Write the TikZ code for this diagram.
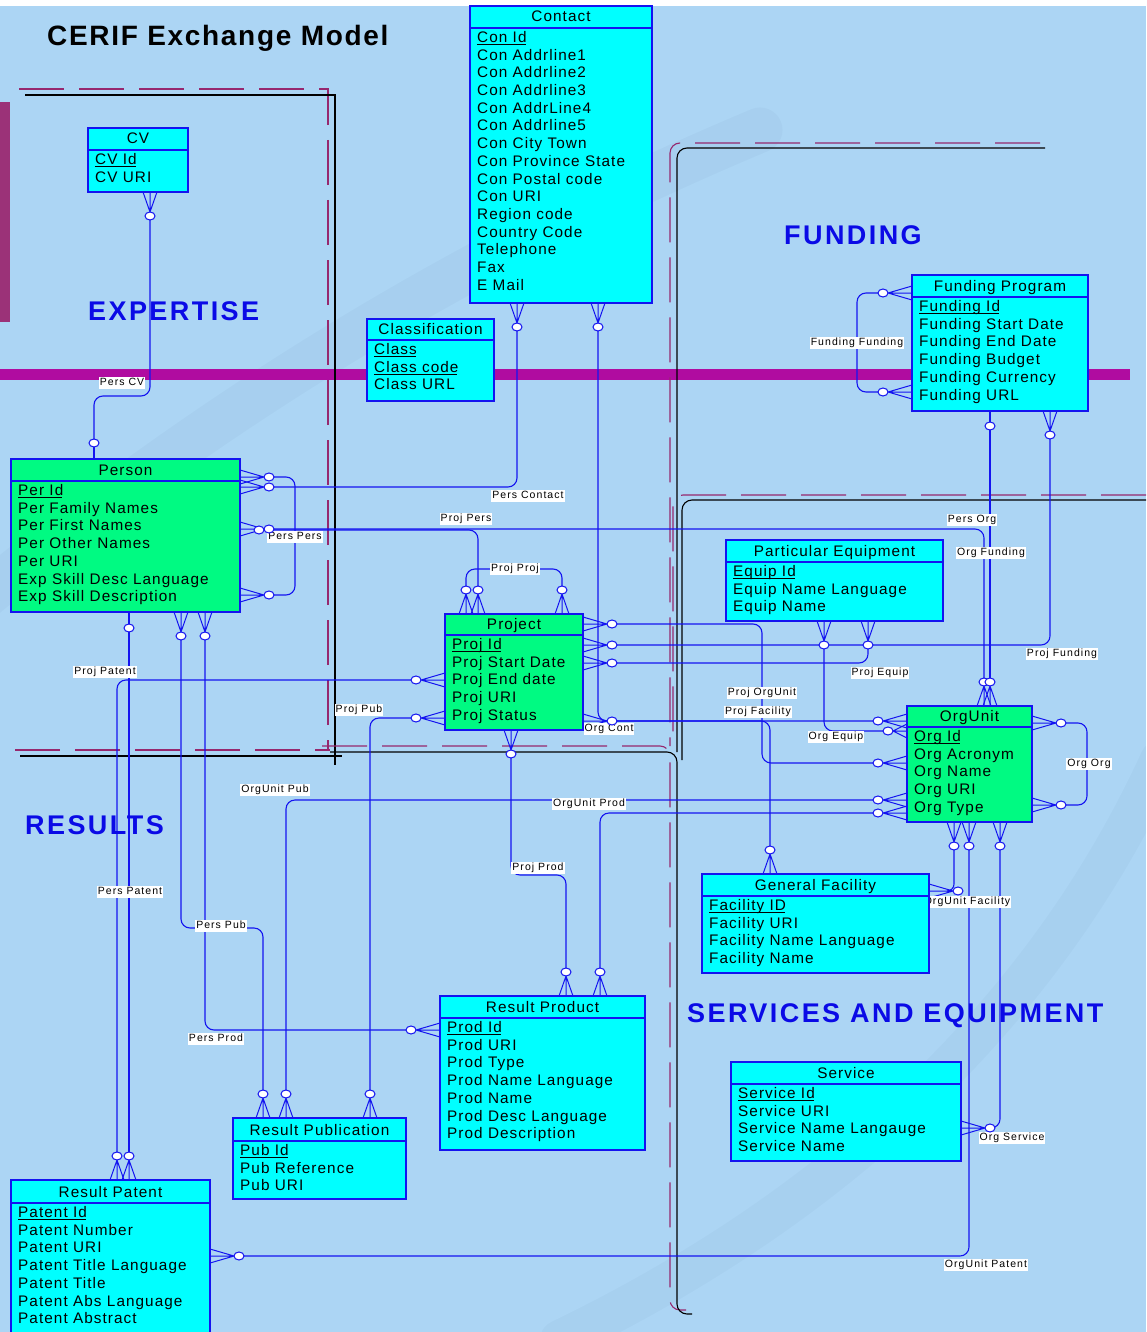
\documentclass[tikz,border=0pt]{standalone}
\usepackage{fontspec}
\setmainfont{Liberation Sans}
\newfontfamily\entfont[LetterSpace=7]{Liberation Sans}
\newfontfamily\lblfont[LetterSpace=10]{Liberation Sans}
\newfontfamily\hdfont[LetterSpace=9]{Liberation Sans}
\newfontfamily\ttlfont[LetterSpace=6]{Liberation Sans}
\usetikzlibrary{calc}
\definecolor{bgblue}{RGB}{172,213,244}
\definecolor{bandcol}{RGB}{176,12,160}
\definecolor{barcol}{RGB}{155,50,120}
\definecolor{dshcol}{RGB}{150,40,110}
\definecolor{relblue}{RGB}{20,20,240}
\definecolor{cyfill}{RGB}{0,255,255}
\definecolor{grfill}{RGB}{0,250,130}
\definecolor{ttlblue}{RGB}{10,10,230}
\definecolor{shadecol}{RGB}{60,90,140}
\newcommand\key[1]{\setbox0\hbox{#1}\rlap{\rule[-2.3pt]{\dimexpr\wd0-1pt\relax}{1pt}}#1}
% entity: name, x1, y1, x2, y2, header line y, fill, title, attributes
\newcommand\entity[9]{%
  \node[entbox,fill=#7,anchor=north west,minimum width={#4-#2},minimum height={#5-#3}] (#1) at (#2,#3) {};
  \draw[draw=relblue,line width=1.2pt] (#2,#6) -- (#4,#6);
  \node[enttxt,anchor=base] (#1-title) at ({(#2+#4)/2},#6-6) {#8};
  \foreach \a [count=\i from 0] in {#9}{%
    \node[enttxt,anchor=base west] (#1-a\i) at (#2+7,{#6+14.5+17.7*\i}) {\a};}%
}
\newcommand\crowR[4][24]{\draw[crowft] (#3,#4-7)--(#3+#1,#4)--(#3,#4+7) (#3,#4)--(#3+#1,#4); \coordinate (#2) at (#3+#1+5,#4);}
\newcommand\crowL[4][24]{\draw[crowft] (#3,#4-7)--(#3-#1,#4)--(#3,#4+7) (#3,#4)--(#3-#1,#4); \coordinate (#2) at (#3-#1-5,#4);}
\newcommand\crowD[4][20]{\draw[crowft] (#3-7,#4)--(#3,#4+#1)--(#3+7,#4) (#3,#4)--(#3,#4+#1); \coordinate (#2) at (#3,#4+#1+4);}
\newcommand\crowU[4][20]{\draw[crowft] (#3-7,#4)--(#3,#4-#1)--(#3+7,#4) (#3,#4)--(#3,#4-#1); \coordinate (#2) at (#3,#4-#1-4);}
\begin{document}
\begin{tikzpicture}[x=1pt,y=-1pt,
  relline/.style={draw=relblue,line width=1.1pt,rounded corners=9pt},
  crowft/.style={draw=relblue,line width=1pt},
  endcirc/.style={draw=relblue,line width=1pt,fill=white},
  entbox/.style={draw=relblue,line width=1.4pt,inner sep=0pt,outer sep=0pt,rectangle},
  enttxt/.style={inner sep=0pt,text=black,font=\entfont\fontsize{15.3}{17.7}\selectfont},
  rlabel/.style={fill=white,inner xsep=1pt,inner ysep=0.6pt,text=black,font=\lblfont\fontsize{10.5}{12}\selectfont,text height=7.8pt,text depth=2.2pt},
  dashreg/.style={draw=dshcol,line width=1.1pt,dash pattern=on 45pt off 15pt},
  solidreg/.style={draw=black,line width=1.1pt},
  secttl/.style={anchor=base west,inner sep=0pt,text=ttlblue,font=\hdfont\bfseries\fontsize{27}{30}\selectfont}]
\useasboundingbox (0,0) rectangle (1146,1332);
% background
\fill[white] (0,0) rectangle (1146,1332);
\fill[bgblue] (0,6) rectangle (1146,1332);
\begin{scope}
\clip (0,6) rectangle (1146,1332);
\draw[shadecol,opacity=0.045,line width=45pt,line cap=round] (-20,600) .. controls (200,420) and (450,260) .. (760,130);
\draw[shadecol,opacity=0.04,line width=40pt,line cap=round] (560,1340) .. controls (850,1200) and (1050,1000) .. (1160,760);
\end{scope}
\fill[bandcol] (0,369) rectangle (1130,380);
\fill[barcol] (0,102) rectangle (10,322);
% region borders
\draw[dashreg] (19,89) -- (328,89) -- (328,750);
\draw[dashreg] (15,750) -- (330,750);
\draw[solidreg] (25,95) -- (335,95) -- (335,765);
\draw[solidreg] (20,756) -- (342,756);
\draw[dashreg,rounded corners=10pt] (322,746) -- (670,746) -- (670,1310) -- (686,1310);
\draw[solidreg,rounded corners=10pt] (330,752) -- (677,752) -- (677,1314) -- (692,1314);
\draw[dashreg,rounded corners=10pt] (1040,143) -- (670,143) -- (670,746);
\draw[solidreg,rounded corners=10pt] (1045,148) -- (677,148) -- (677,752);
\draw[dashreg,rounded corners=10pt] (1146,495) -- (673,495) -- (673,746);
\draw[solidreg,rounded corners=10pt] (1146,500) -- (682,500) -- (682,760);
% title
\node[anchor=base west,inner sep=0pt,text=black,font=\ttlfont\bfseries\fontsize{28}{32}\selectfont] (title) at (47,46) {CERIF Exchange Model};
% crow's feet and end points
\crowD{cB1}{517}{303} \crowD{cB2}{598}{303}
\crowD{cvB}{150}{192}
\coordinate (pT) at (94,443);
\crowR{pR1}{240}{477} \crowR{pR2}{240}{487} \crowR{pR3}{240}{529} \coordinate (pR3b) at (259,530);
\crowR{pR4}{240}{595}
\coordinate (pB0) at (129,628);
\crowD{pB1}{181}{612} \crowD{pB2}{205}{612}
\crowU{jT1}{466}{614} \crowU{jT2}{478}{614} \crowU{jT3}{562}{614}
\crowR{jR1}{583}{624} \crowR{jR2}{583}{645} \crowR{jR3}{583}{663} \crowR{jR4}{583}{721}
\crowL{jL1}{445}{680} \crowL{jL2}{445}{718}
\crowD{jB}{511}{730}
\crowL{fL1}{912}{293} \crowL{fL2}{912}{392}
\coordinate (fB1) at (990,426);
\crowD{fB2}{1050}{411}
\crowD{eB1}{824}{621} \crowD{eB2}{868}{621}
\crowU{oT1}{984}{706} \crowU{oT2}{990}{706}
\crowL{oL1}{907}{721} \crowL[14]{oL2}{907}{731} \crowL{oL3}{907}{763} \crowL{oL4}{907}{800} \crowL{oL5}{907}{813}
\crowR{oR1}{1032}{723} \crowR{oR2}{1032}{805}
\crowD{oB1}{954}{822} \crowD{oB2}{969}{822} \crowD{oB3}{1000}{822}
\crowU{gT}{770}{874} \crowR{gR}{929}{891}
\crowR{sR}{961}{1128}
\crowU{prT1}{566}{996} \crowU{prT2}{600}{996} \crowL{prL}{440}{1030}
\crowU{puT1}{263}{1118} \crowU{puT2}{286}{1118} \crowU{puT3}{370}{1118}
\crowU{paT1}{117}{1180} \crowU{paT2}{129}{1180} \crowR{paR}{210}{1256}
% connectors
\draw[relline] (cvB) -- ++(0,180) -| (pT);
\draw[relline] (pT) -- (94,459);
\draw[relline] (pR1) -- ++(26,0) |- (pR4);
\draw[relline] (pR2) -| (cB1);
\draw[relline] (pR3b) -| (jT2);
\draw[relline] (pR3) -| (oT1);
\draw[relline] (jT1) -- ++(0,-21) -| (jT3);
\draw[relline] (jR1) -- ++(150,0) |- (oL3);
\draw[relline] (jR2) -| (fB2);
\draw[relline] (jR3) -| (eB2);
\draw[relline] (eB1) |- (oL2);
\draw[relline] (cB2) |- (oL1);
\draw[relline] (jR4) -| (gT);
\draw[relline] (jL1) -| (paT1);
\draw[relline] (pB0) -- (paT2);
\draw[relline] (pB0) -- (129,612);
\draw[relline] (jL2) -| (puT3);
\draw[relline] (jB) -- ++(0,121) -| (prT1);
\draw[relline] (pB1) -- ++(0,292) -| (puT1);
\draw[relline] (pB2) |- (prL);
\draw[relline] (puT2) |- (oL4);
\draw[relline] (prT2) |- (oL5);
\draw[relline] (oR1) -- ++(26,0) |- (oR2);
\draw[relline] (fB1) -- (oT2);
\draw[relline] (fB1) -- (990,411);
\draw[relline] (fL1) -- ++(-26,0) |- (fL2);
\draw[relline,rounded corners=7pt] (oB1) |- ($(gR)+(-8,0)$);
\draw[relline] (oB2) |- (paR);
\draw[relline] (oB3) |- (sR);
% relationship labels
\node[rlabel] (l1) at (122,383) {Pers CV};
\node[rlabel] (l2) at (528,496) {Pers Contact};
\node[rlabel] (l3) at (466,519) {Proj Pers};
\node[rlabel] (l4) at (295,537) {Pers Pers};
\node[rlabel] (l5) at (515,569) {Proj Proj};
\node[rlabel] (l6) at (105,672) {Proj Patent};
\node[rlabel] (l7) at (359,710) {Proj Pub};
\node[rlabel] (l8) at (609,729) {Org Cont};
\node[rlabel] (l9) at (762,693) {Proj OrgUnit};
\node[rlabel] (l10) at (758,712) {Proj Facility};
\node[rlabel] (l11) at (880,673) {Proj Equip};
\node[rlabel] (l12) at (836,737) {Org Equip};
\node[rlabel] (l13) at (1062,654) {Proj Funding};
\node[rlabel] (l14) at (972,520) {Pers Org};
\node[rlabel] (l15) at (991,553) {Org Funding};
\node[rlabel] (l16) at (857,343) {Funding Funding};
\node[rlabel] (l17) at (1089,764) {Org Org};
\node[rlabel] (l18) at (275,790) {OrgUnit Pub};
\node[rlabel] (l19) at (589,804) {OrgUnit Prod};
\node[rlabel] (l20) at (538,868) {Proj Prod};
\node[rlabel] (l21) at (130,892) {Pers Patent};
\node[rlabel] (l22) at (221,926) {Pers Pub};
\node[rlabel] (l23) at (216,1039) {Pers Prod};
\node[rlabel] (l24) at (967,902) {OrgUnit Facility};
\node[rlabel] (l25) at (1012,1138) {Org Service};
\node[rlabel] (l26) at (986,1265) {OrgUnit Patent};
% end circles
\foreach \c in {cB1,cB2,cvB,pT,pR1,pR2,pR3,pR3b,pR4,pB0,pB1,pB2,jT1,jT2,jT3,jR1,jR2,jR3,jR4,jL1,jL2,jB,fL1,fL2,fB1,fB2,eB1,eB2,oT1,oT2,oL1,oL2,oL3,oL4,oL5,oR1,oR2,oB1,oB2,oB3,gT,gR,sR,prT1,prT2,prL,puT1,puT2,puT3,paT1,paT2,paR}
  \draw[endcirc] (\c) ellipse [x radius=5pt,y radius=4pt];
% entities
\entity{contact}{470}{6}{652}{303}{28}{cyfill}{Contact}{\key{Con Id},Con Addrline1,Con Addrline2,Con Addrline3,Con AddrLine4,Con Addrline5,Con City Town,Con Province State,Con Postal code,Con URI,Region code,Country Code,Telephone,Fax,E Mail}
\entity{cv}{88}{128}{188}{192}{150}{cyfill}{CV}{\key{CV Id},CV URI}
\entity{classif}{367}{319}{494}{401}{340}{cyfill}{Classification}{\key{Class},\key{Class code},Class URL}
\entity{person}{11}{459}{240}{612}{481}{grfill}{Person}{\key{Per Id},Per Family Names,Per First Names,Per Other Names,Per URI,Exp Skill Desc Language,Exp Skill Description}
\entity{project}{445}{614}{583}{730}{635}{grfill}{Project}{\key{Proj Id},Proj Start Date,Proj End date,Proj URI,Proj Status}
\entity{fund}{912}{275}{1088}{411}{297}{cyfill}{Funding Program}{\key{Funding Id},Funding Start Date,Funding End Date,Funding Budget,Funding Currency,Funding URL}
\entity{equip}{726}{540}{943}{621}{562}{cyfill}{Particular Equipment}{\key{Equip Id},Equip Name Language,Equip Name}
\entity{org}{907}{706}{1032}{822}{727}{grfill}{OrgUnit}{\key{Org Id},Org Acronym,Org Name,Org URI,Org Type}
\entity{facility}{702}{874}{929}{973}{896}{cyfill}{General Facility}{\key{Facility ID},Facility URI,Facility Name Language,Facility Name}
\entity{service}{731}{1062}{961}{1161}{1084}{cyfill}{Service}{\key{Service Id},Service URI,Service Name Langauge,Service Name}
\entity{product}{440}{996}{645}{1150}{1018}{cyfill}{Result Product}{\key{Prod Id},Prod URI,Prod Type,Prod Name Language,Prod Name,Prod Desc Language,Prod Description}
\entity{pub}{233}{1118}{406}{1199}{1141}{cyfill}{Result Publication}{\key{Pub Id},Pub Reference,Pub URI}
\entity{patent}{11}{1180}{210}{1340}{1203}{cyfill}{Result Patent}{\key{Patent Id},Patent Number,Patent URI,Patent Title Language,Patent Title,Patent Abs Language,Patent Abstract}
% section names
\node[secttl] (sExp) at (88,320) {EXPERTISE};
\node[secttl] (sFund) at (784,244) {FUNDING};
\node[secttl] (sRes) at (25,834) {RESULTS};
\node[secttl] (sServ) at (687,1022) {SERVICES AND EQUIPMENT};
\end{tikzpicture}
\end{document}
